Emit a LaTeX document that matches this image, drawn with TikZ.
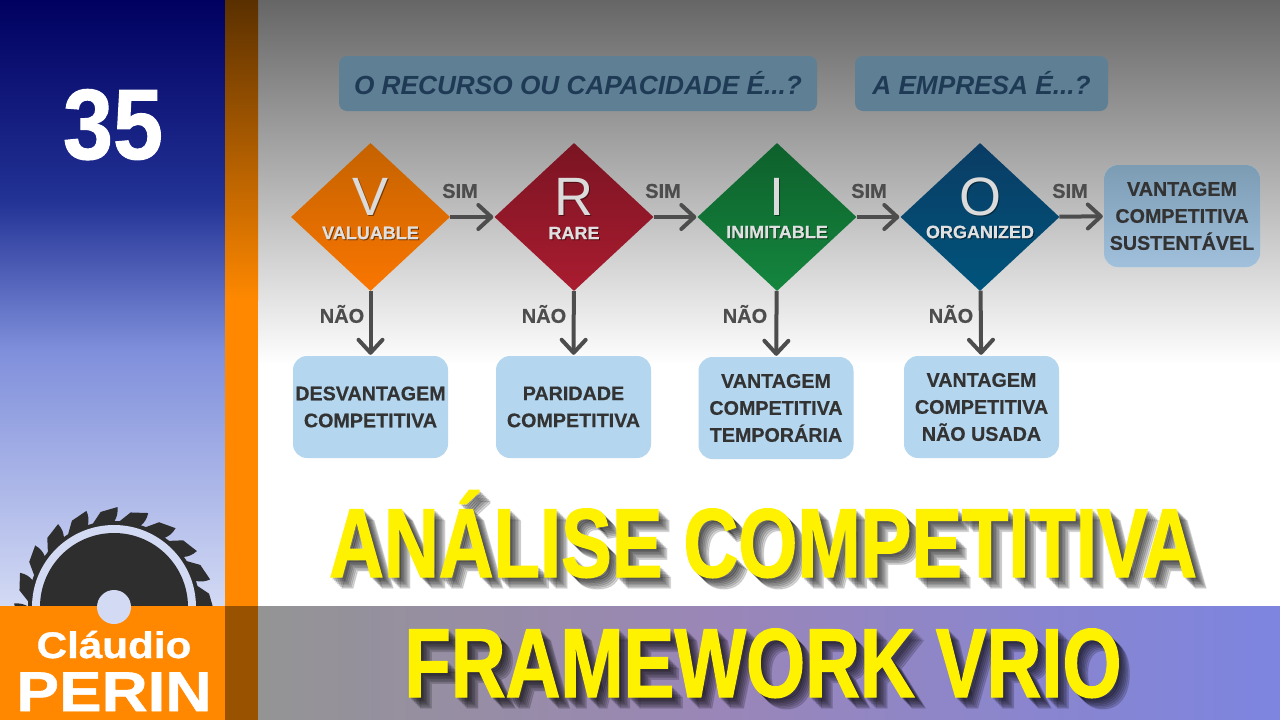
\documentclass[tikz,border=0pt]{standalone}
\usepackage{fontspec}
\usepackage{xcolor}
\usetikzlibrary{shapes.geometric,arrows.meta}
\setmainfont[BoldFeatures={FakeBold=0.5}]{Liberation Sans}
\newfontfamily\titlefont[FakeStretch=0.775,BoldFeatures={FakeBold=1.2}]{Liberation Sans}
\newfontfamily\numberfont[FakeStretch=0.9,BoldFeatures={FakeBold=1}]{Liberation Sans}
\newfontfamily\logofont[FakeStretch=1.14,BoldFeatures={FakeBold=1}]{Liberation Sans}
\definecolor{arrowgray}{HTML}{4D4D4D}
\definecolor{boxblue}{HTML}{B4D7EF}
\definecolor{barblue}{HTML}{5F7F95}
\definecolor{barink}{HTML}{1E3A54}
\definecolor{sawdark}{HTML}{2E2E2E}
\definecolor{sawlight}{HTML}{D3DAF4}
\definecolor{logoorange}{HTML}{FF8800}
\definecolor{panelA}{HTML}{000060}
\definecolor{panelB}{HTML}{223295}
\definecolor{panelC}{HTML}{7F8FDB}
\definecolor{stripmid}{HTML}{9A86B8}
\definecolor{stripright}{HTML}{7D85E0}
\tikzset{
diamondnode/.style={diamond, draw=none, inner sep=0pt, minimum width=159pt, minimum height=148pt},
letternode/.style={text=black!14, font=\fontsize{54}{54}\selectfont},
namenode/.style={text=black!12, font=\bfseries\fontsize{18}{18}\selectfont},
outcomebox/.style={rectangle, rounded corners=14pt, fill=boxblue, inner sep=0pt, minimum width=155pt, minimum height=102pt, align=center, text=black!80, font=\bfseries\fontsize{19.7}{27}\selectfont},
topbar/.style={rectangle, rounded corners=8pt, fill=barblue, inner sep=0pt, minimum height=55pt, text=barink, font=\bfseries\itshape\fontsize{26.2}{26}\selectfont},
simlabel/.style={text=arrowgray, font=\bfseries\fontsize{20}{20}\selectfont},
flowarrow/.style={line width=4pt, draw=arrowgray, shorten >=1pt, -{Straight Barb[length=13pt,width=24pt,line width=4pt,round]}},
titletext/.style={text=yellow, anchor=base, font=\titlefont\bfseries\fontsize{98}{98}\selectfont},
titleshadow/.style={text=black, opacity=0.13, anchor=base, font=\titlefont\bfseries\fontsize{98}{98}\selectfont},
}
\begin{document}
\begin{tikzpicture}[x=1pt,y=-1pt]
\useasboundingbox (0,0) rectangle (1280,720);
% backgrounds
\shade[top color=black!60,bottom color=white] (258,0) rectangle (1280,365);
\fill[white] (258,365) rectangle (1280,606);
\shade[top color=panelA,bottom color=panelB] (0,0) rectangle (225,200);
\shade[top color=panelB,bottom color=panelC] (0,200) rectangle (225,350);
\shade[top color=panelC,bottom color=sawlight] (0,350) rectangle (225,606);
\shade[top color={rgb,255:red,90;green,48;blue,0},bottom color=logoorange] (225,0) rectangle (258,300);
\fill[logoorange] (225,300) rectangle (258,606);

% saw blade
\begin{scope}
\clip (0,0) rectangle (225,606);
\begin{scope}[shift={(114,607)}]
\fill[sawdark] (0,0) circle (86);
\foreach \a in {-88,-70,...,254}{
\fill[sawdark] (\a:100) to[bend left=18] (\a-2:85) -- (\a-17:85) -- (\a-10:96) -- cycle;
}
\fill[sawlight] (0,0) circle (82);
\fill[sawdark] (0,0) circle (74);
\end{scope}
\end{scope}

% bottom strip
\fill[logoorange] (0,606) rectangle (225,720);
\fill[black!40!logoorange] (225,606) rectangle (258,720);
\shade[left color=black!42,right color=stripmid] (258,606) rectangle (720,720);
\shade[left color=stripmid,right color=stripright] (720,606) rectangle (1280,720);
\fill[sawlight] (114,607) circle (17);

\node[text=white,anchor=base,font=\logofont\bfseries\fontsize{37}{37}\selectfont] at (114,658) (claudio) {Cláudio};
\node[text=white,anchor=base,font=\logofont\bfseries\fontsize{56}{56}\selectfont] at (114,711) (perin) {PERIN};
\node[text=white,anchor=base,font=\numberfont\bfseries\fontsize{100}{100}\selectfont] at (113,159) (number) {35};

% header bars
\node[topbar, minimum width=478pt] at (578,83.5) (recurso) {O RECURSO OU CAPACIDADE É...?};
\node[topbar, minimum width=253pt] at (981.5,83.5) (empresa) {A EMPRESA É...?};

% diamonds
\node[diamondnode, top color={rgb,255:red,196;green,98;blue,0}, bottom color={rgb,255:red,250;green,118;blue,0}] at (370.5,217) (v) {};
\node[diamondnode, top color={rgb,255:red,122;green,20;blue,34}, bottom color={rgb,255:red,170;green,28;blue,48}] at (574,217) (r) {};
\node[diamondnode, top color={rgb,255:red,14;green,96;blue,44}, bottom color={rgb,255:red,20;green,134;blue,62}] at (777,217) (i) {};
\node[diamondnode, top color={rgb,255:red,10;green,60;blue,100}, bottom color={rgb,255:red,0;green,84;blue,124}] at (980,217) (o) {};

\node[letternode,text=black,opacity=0.45] at (371.5,198) (vlettershadow) {V};
\node[letternode,text=black,opacity=0.45] at (575,198) (rlettershadow) {R};
\node[letternode,text=black,opacity=0.45] at (778,198) (ilettershadow) {I};
\node[letternode,text=black,opacity=0.45] at (981,198) (olettershadow) {O};
\node[letternode] at (370.5,197) (vletter) {V};
\node[letternode] at (574,197) (rletter) {R};
\node[letternode] at (777,197) (iletter) {I};
\node[letternode] at (980,197) (oletter) {O};
\node[namenode,text=black,opacity=0.45] at (371.5,234) (vnameshadow) {VALUABLE};
\node[namenode,text=black,opacity=0.45] at (575,234) (rnameshadow) {RARE};
\node[namenode,text=black,opacity=0.45] at (778,233) (inameshadow) {INIMITABLE};
\node[namenode,text=black,opacity=0.45] at (981,233) (onameshadow) {ORGANIZED};
\node[namenode] at (370.5,233) (vname) {VALUABLE};
\node[namenode] at (574,233) (rname) {RARE};
\node[namenode] at (777,232) (iname) {INIMITABLE};
\node[namenode] at (980,232) (oname) {ORGANIZED};

% outcomes
\node[outcomebox] at (370.5,407) (desvantagem) {DESVANTAGEM\\COMPETITIVA};
\node[outcomebox] at (573.5,407) (paridade) {PARIDADE\\COMPETITIVA};
\node[outcomebox] at (776,408) (temporaria) {VANTAGEM\\COMPETITIVA\\TEMPORÁRIA};
\node[outcomebox] at (981.5,407) (naousada) {VANTAGEM\\COMPETITIVA\\NÃO USADA};
\node[outcomebox, top color={rgb,255:red,124;green,156;blue,180}, bottom color={rgb,255:red,160;green,192;blue,220}, minimum width=156pt] at (1182,216) (sustentavel) {VANTAGEM\\COMPETITIVA\\SUSTENTÁVEL};

% arrows
\draw[flowarrow] (v)--(r);
\draw[flowarrow] (r)--(i);
\draw[flowarrow] (i)--(o);
\draw[flowarrow] (o)--(sustentavel);
\draw[flowarrow] (v)--(desvantagem);
\draw[flowarrow] (r)--(paridade);
\draw[flowarrow] (i)--(temporaria);
\draw[flowarrow] (o)--(naousada);

\node[simlabel] at (460,191) (sim1) {SIM};
\node[simlabel] at (663,191) (sim2) {SIM};
\node[simlabel] at (869,191) (sim3) {SIM};
\node[simlabel] at (1070,191) (sim4) {SIM};
\node[simlabel] at (342,314) (nao1) {NÃO};
\node[simlabel] at (544,314) (nao2) {NÃO};
\node[simlabel] at (745,314) (nao3) {NÃO};
\node[simlabel] at (951,314) (nao4) {NÃO};

% titles
\foreach \d in {2,3.5,...,11}{
\node[titleshadow] at (763+\d,577+\d) (analiseshadow\d) {ANÁLISE COMPETITIVA};
\node[titleshadow] at (763+\d,697+\d) (frameworkshadow\d) {FRAMEWORK VRIO};
}
\node[titletext] at (763,577) (analise) {ANÁLISE COMPETITIVA};
\node[titletext] at (763,697) (framework) {FRAMEWORK VRIO};
\end{tikzpicture}
\end{document}
